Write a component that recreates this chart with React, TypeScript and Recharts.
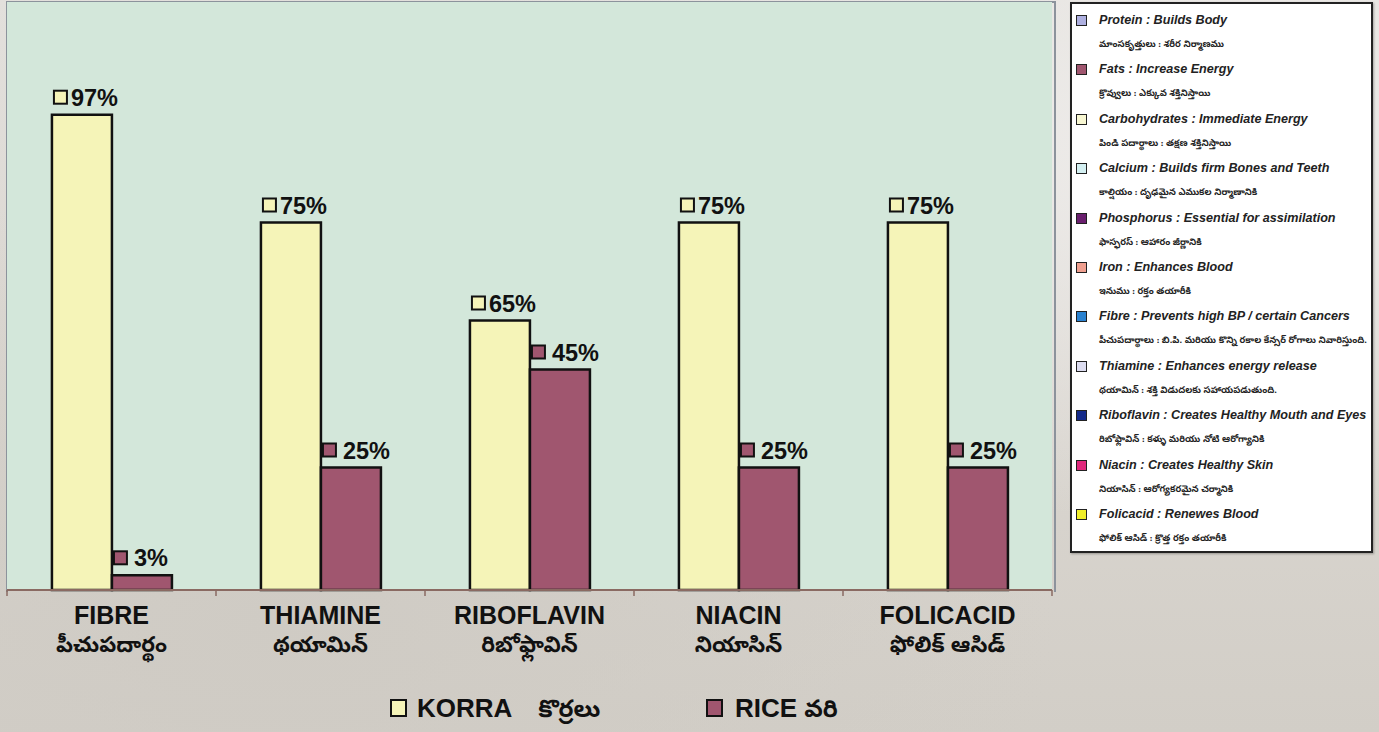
import React from "react";
import { BarChart, Bar, XAxis, YAxis, CartesianGrid, LabelList } from "recharts";

const categories = ["FIBRE", "THIAMINE", "RIBOFLAVIN", "NIACIN", "FOLICACID"];
const categoriesTelugu = ["పీచుపదార్థం", "థయామిన్", "రిబోఫ్లావిన్", "నియాసిన్", "ఫోలిక్ ఆసిడ్"];
const korraValues = [97, 75, 55, 75, 75];
const riceValues = [3, 25, 45, 25, 25];
const korraLabels = ["97%", "75%", "65%", "75%", "75%"];
const riceLabels = ["3%", "25%", "45%", "25%", "25%"];

const seriesNames = ["KORRA", "RICE"];
const seriesTelugu = ["కొర్రలు", "వరి"];

const nutrientNames = ["Protein", "Fats", "Carbohydrates", "Calcium", "Phosphorus", "Iron", "Fibre", "Thiamine", "Riboflavin", "Niacin", "Folicacid"];
const nutrientBenefits = [
  "Builds Body",
  "Increase Energy",
  "Immediate Energy",
  "Builds firm Bones and Teeth",
  "Essential for assimilation",
  "Enhances Blood",
  "Prevents high BP / certain Cancers",
  "Enhances energy release",
  "Creates Healthy Mouth and Eyes",
  "Creates Healthy Skin",
  "Renewes Blood",
];
const nutrientTelugu = [
  "మాంసకృత్తులు : శరీర నిర్మాణము",
  "క్రొవ్వులు : ఎక్కువ శక్తినిస్తాయి",
  "పిండి పదార్థాలు : తక్షణ శక్తినిస్తాయి",
  "కాల్షియం : దృఢమైన ఎముకల నిర్మాణానికి",
  "ఫాస్ఫరస్ : ఆహారం జీర్ణానికి",
  "ఇనుము : రక్తం తయారీకి",
  "పీచుపదార్థాలు : బి.పి. మరియు కొన్ని రకాల కేన్సర్ రోగాలు నివారిస్తుంది.",
  "థయామిన్ : శక్తి విడుదలకు సహాయపడుతుంది.",
  "రిబోఫ్లావిన్ : కళ్ళు మరియు నోటి ఆరోగ్యానికి",
  "నియాసిన్ : ఆరోగ్యకరమైన చర్మానికి",
  "ఫోలిక్ ఆసిడ్ : క్రొత్త రక్తం తయారీకి",
];
const nutrientColors = ["#aeb0e0", "#a0566f", "#f8f7d2", "#d4f0f2", "#6a1f6e", "#f0a090", "#2a82d0", "#dcdcf0", "#142a8a", "#e0287c", "#f0ee2a"];

const KORRA_FILL = "#f5f4b8";
const RICE_FILL = "#a0566f";
const PLOT_FILL = "#d3e7da";
const AXIS_COLOR = "#8a6a62";
const FONT = "Arial, 'Liberation Sans', Helvetica, sans-serif";
const TE_FONT = "'Noto Sans Telugu', 'Noto Sans', 'Noto Sans CJK SC', sans-serif";

const data = categories.map((c, i) => ({
  name: c,
  te: categoriesTelugu[i],
  korra: korraValues[i],
  rice: riceValues[i],
}));

const makeLabel = (labels: string[], fill: string, textOffset: number) => (props: any) => {
  const { x, y, index } = props;
  const bx = Number(x);
  const by = Number(y);
  return (
    <g>
      <rect x={bx + 2} y={by - 24} width={13} height={13} fill={fill} stroke="#111" strokeWidth={2} />
      <text x={bx + textOffset} y={by - 9} fontFamily={FONT} fontWeight="bold" fontSize={23.5} fill="#111">
        {labels[index]}
      </text>
    </g>
  );
};

const CategoryTick = (props: any) => {
  const { x, y, payload, index, width, visibleTicksCount } = props;
  const band = Number(width) / Number(visibleTicksCount || categories.length);
  const axisY = y - 8;
  const left = x - band / 2;
  const right = x + band / 2;
  return (
    <g>
      <line x1={left} x2={left} y1={axisY} y2={axisY + 6} stroke={AXIS_COLOR} strokeWidth={1.5} />
      {index === categories.length - 1 && (
        <line x1={right} x2={right} y1={axisY} y2={axisY + 6} stroke={AXIS_COLOR} strokeWidth={1.5} />
      )}
      <text x={x} y={y + 26} textAnchor="middle" fontFamily={FONT} fontWeight="bold" fontSize={25} fill="#111">
        {payload.value}
      </text>
      <text x={x} y={y + 54} textAnchor="middle" fontFamily={TE_FONT} fontWeight="bold" fontSize={22} fill="#111">
        {categoriesTelugu[index]}
      </text>
    </g>
  );
};

export default function App() {
  return (
    <div
      style={{
        position: "absolute",
        left: 0,
        top: 0,
        width: 1379,
        height: 732,
        overflow: "hidden",
        background:
          "radial-gradient(ellipse at 85% 20%, #eeecea 0%, rgba(238,236,234,0) 45%), radial-gradient(ellipse at 20% 85%, #cfcbc4 0%, rgba(207,203,196,0) 50%), linear-gradient(180deg, #e3e0dc 0%, #d9d5cf 60%, #d2cec7 100%)",
      }}
    >
      {/* plot frame edges (left, top, right) */}
      <div style={{ position: "absolute", left: 6, top: 1, width: 1046, height: 589, borderLeft: "2px solid #8c939c", borderTop: "2px solid #8c939c", borderRight: "2px solid #8c939c", pointerEvents: "none" }} />

      <div style={{ position: "absolute", left: 0, top: 0 }}>
        <BarChart
          width={1060}
          height={732}
          data={data}
          margin={{ top: 2, right: 8, left: 7, bottom: 42 }}
          barCategoryGap="21.5%"
          barGap={0}
        >
          <CartesianGrid horizontal={false} vertical={false} fill={PLOT_FILL} />
          <YAxis hide domain={[0, 120]} />
          <XAxis
            dataKey="name"
            height={100}
            axisLine={{ stroke: AXIS_COLOR, strokeWidth: 2 }}
            tickLine={false}
            tickSize={6}
            tickMargin={2}
            interval={0}
            tick={<CategoryTick />}
          />
          <Bar dataKey="korra" fill={KORRA_FILL} stroke="#111" strokeWidth={2.5} isAnimationActive={false}>
            <LabelList dataKey="korra" content={makeLabel(korraLabels, KORRA_FILL, 19)} />
          </Bar>
          <Bar dataKey="rice" fill={RICE_FILL} stroke="#111" strokeWidth={2.5} isAnimationActive={false}>
            <LabelList dataKey="rice" content={makeLabel(riceLabels, RICE_FILL, 22)} />
          </Bar>
        </BarChart>
      </div>

      {/* bottom series legend */}
      <div style={{ position: "absolute", left: 390, top: 693, display: "flex", alignItems: "baseline", fontFamily: FONT, fontWeight: "bold", fontSize: 26, color: "#111" }}>
        <span style={{ display: "inline-block", width: 13, height: 14, background: KORRA_FILL, border: "2px solid #111", marginRight: 10 }} />
        <span>{seriesNames[0]}</span>
        <span style={{ fontFamily: TE_FONT, fontSize: 24, marginLeft: 26 }}>{seriesTelugu[0]}</span>
      </div>
      <div style={{ position: "absolute", left: 706, top: 693, display: "flex", alignItems: "baseline", fontFamily: FONT, fontWeight: "bold", fontSize: 26, color: "#111" }}>
        <span style={{ display: "inline-block", width: 13, height: 14, background: RICE_FILL, border: "2px solid #111", marginRight: 12 }} />
        <span>{seriesNames[1]}</span>
        <span style={{ fontFamily: TE_FONT, fontSize: 24, marginLeft: 7 }}>{seriesTelugu[1]}</span>
      </div>

      {/* nutrient legend box */}
      <div
        style={{
          position: "absolute",
          left: 1070,
          top: 2,
          width: 299,
          height: 539,
          border: "2px solid #222",
          background: "#ffffff",
          boxShadow: "1px 1px 2px rgba(0,0,0,0.3)",
          paddingTop: 8,
          boxSizing: "content-box",
        }}
      >
        {nutrientNames.map((n, i) => (
          <div key={n} style={{ position: "relative", height: 49.4 }}>
            <span
              style={{
                position: "absolute",
                left: 4,
                top: 3,
                width: 9,
                height: 9,
                background: nutrientColors[i],
                border: "1.5px solid #222",
              }}
            />
            <div style={{ position: "absolute", left: 27, top: 0, lineHeight: "17px", fontFamily: FONT, fontWeight: "bold", fontStyle: "italic", fontSize: 12.6, color: "#222", whiteSpace: "nowrap" }}>
              {n} : {nutrientBenefits[i]}
            </div>
            <div style={{ position: "absolute", left: 27, top: 23, lineHeight: "20px", fontFamily: TE_FONT, fontWeight: "bold", fontSize: 9.2, color: "#222", whiteSpace: "nowrap" }}>
              {nutrientTelugu[i]}
            </div>
          </div>
        ))}
      </div>
    </div>
  );
}
